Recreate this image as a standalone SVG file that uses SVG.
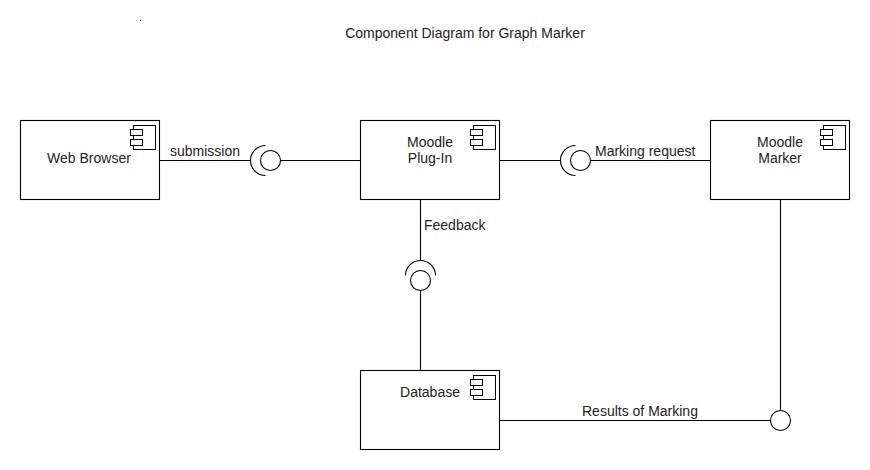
<svg xmlns="http://www.w3.org/2000/svg" width="870" height="470" viewBox="0 0 870 470">
<style>
text{font-family:"Liberation Sans",Arial,sans-serif;font-size:14px;fill:#222}
.m{text-anchor:middle}
.b,.i,.l,.s{stroke:#000;stroke-width:1.1;fill:none}
.b{fill:#fff}
.i{fill:#fff;stroke-width:1}
</style>
<defs>
<g id="icon"><rect class="i" x="133.500" y="125.500" width="22" height="24"/><rect class="i" x="130.500" y="129.500" width="12" height="6"/><rect class="i" x="130.500" y="139.500" width="12" height="6"/></g>
</defs>
<rect width="870" height="470" fill="#fff"/>
<rect x="140" y="20" width="1" height="1" fill="#000"/>
<text class="m" x="465" y="37.500">Component Diagram for Graph Marker</text>
<g id="connectors">
<path class="l" d="M160 160.500H250M280.500 160.500H360M500 160.500H560M590.500 160.500H710M420.500 200V260M420.500 290.500V370M500 420.500H770.500M780.500 200V410.500"/>
<path class="s" d="M265.500 145.500A15 15 0 0 0 265.500 175.500M575.500 145.500A15 15 0 0 0 575.500 175.500M405.500 275.500A15 15 0 0 1 435.500 275.500"/>
<circle class="s" cx="270.500" cy="160.500" r="10"/>
<circle class="s" cx="580.500" cy="160.500" r="10"/>
<circle class="s" cx="420.500" cy="280.500" r="10"/>
<circle class="s" cx="780.500" cy="420.500" r="10"/>
</g>
<g id="web-browser"><rect class="b" x="20.500" y="120.500" width="139" height="79"/><use href="#icon"/><text class="m" x="89" y="163">Web Browser</text></g>
<g id="moodle-plugin"><rect class="b" x="360.500" y="120.500" width="139" height="79"/><use href="#icon" x="340"/><text class="m" x="430" y="147">Moodle</text><text class="m" x="430" y="163">Plug-In</text></g>
<g id="moodle-marker"><rect class="b" x="710.500" y="120.500" width="139" height="79"/><use href="#icon" x="690"/><text class="m" x="780" y="147">Moodle</text><text class="m" x="780" y="163">Marker</text></g>
<g id="database"><rect class="b" x="360.500" y="370.500" width="139" height="79"/><use href="#icon" x="340" y="250"/><text class="m" x="430" y="397">Database</text></g>
<g id="labels">
<text x="170" y="156">submission</text>
<text x="595" y="156">Marking request</text>
<text x="424" y="230">Feedback</text>
<text x="582" y="416">Results of Marking</text>
</g>
</svg>
